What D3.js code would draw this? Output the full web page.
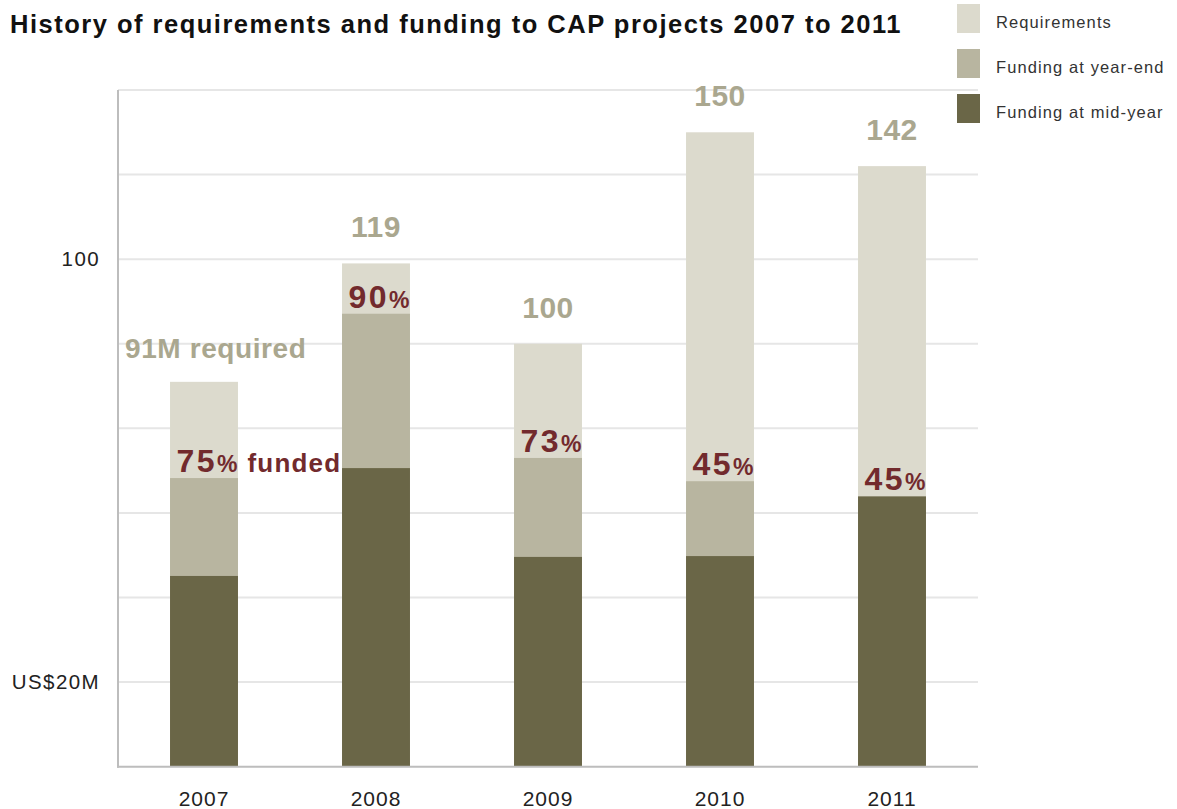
<!DOCTYPE html>
<html>
<head>
<meta charset="utf-8">
<script src="https://cdn.jsdelivr.net/npm/d3@7/dist/d3.min.js"></script>
<style>
  html, body { margin: 0; padding: 0; background: #fff; }
  svg { display: block; font-family: "Liberation Sans", Arial, sans-serif; }
</style>
</head>
<body>
<svg id="chart" width="1177" height="809"></svg>
<script>
// CAP requirements and funding, US$ millions
const years = ["2007", "2008", "2009", "2010", "2011"];
const required = [91, 119, 100, 150, 142];
const fundedPct = [75, 90, 73, 45, 45];
const yearEndFunding = [68.25, 107.1, 73, 67.5, 63.9];
const midYearFunding = [45.1, 70.6, 49.6, 49.8, 63.9];

const axisTickValues = [20, 120];
const axisTickLabels = ["US$20M", "100"];
const gridValues = [20, 40, 60, 80, 100, 120, 140, 160];

const seriesNames = ["Requirements", "Funding at year-end", "Funding at mid-year"];
const seriesColors = ["#dcdacd", "#b8b5a0", "#6a6647"];

const svg = d3.select("#chart");
const plotLeft = 118, plotRight = 978, plotTop = 90, plotBottom = 766.7;

const x = d3.scaleBand().domain(years).range([plotLeft, plotRight])
  .paddingInner(0.605).paddingOuter(0.3025);
const y = d3.scaleLinear().domain([0, 160]).range([plotBottom, plotTop]);

// title
svg.append("text")
  .attr("x", 10).attr("y", 33)
  .attr("font-size", 25.5).attr("font-weight", "bold")
  .attr("letter-spacing", 1.5)
  .attr("fill", "#111")
  .text("History of requirements and funding to CAP projects 2007 to 2011");

// gridlines
svg.append("g").selectAll("line").data(gridValues).join("line")
  .attr("x1", plotLeft).attr("x2", plotRight)
  .attr("y1", d => y(d)).attr("y2", d => y(d))
  .attr("stroke", "#e6e6e6").attr("stroke-width", 2);

// left axis labels
const yAxis = d3.axisLeft(y).tickValues(axisTickValues)
  .tickFormat((d, i) => axisTickLabels[i]).tickSize(0).tickPadding(18);
const gy = svg.append("g").attr("transform", `translate(${plotLeft},0)`).call(yAxis);
gy.select(".domain").remove();
gy.selectAll("text").attr("font-size", 20.5).attr("fill", "#222")
  .attr("letter-spacing", 1.4)
  .attr("font-family", "'Liberation Sans', Arial, sans-serif");

// bars: requirements, then year-end and mid-year funding on top
const rows = years.map((yr, i) => ({
  yr, req: required[i], pct: fundedPct[i],
  yearEnd: yearEndFunding[i], mid: midYearFunding[i]
}));

const layers = [
  { key: "req", color: seriesColors[0] },
  { key: "yearEnd", color: seriesColors[1] },
  { key: "mid", color: seriesColors[2] }
];
layers.forEach(l => {
  svg.append("g").selectAll("rect").data(rows).join("rect")
    .attr("x", d => x(d.yr))
    .attr("width", x.bandwidth())
    .attr("y", d => y(d[l.key]))
    .attr("height", d => y(0) - y(d[l.key]))
    .attr("fill", l.color);
});

// axis lines
svg.append("line").attr("x1", plotLeft).attr("x2", plotLeft).attr("y1", plotTop).attr("y2", plotBottom + 1)
  .attr("stroke", "#bdbdbd").attr("stroke-width", 2);
svg.append("line").attr("x1", plotLeft - 1).attr("x2", plotRight).attr("y1", plotBottom).attr("y2", plotBottom)
  .attr("stroke", "#bdbdbd").attr("stroke-width", 2);

// bottom axis labels
const xAxis = d3.axisBottom(x).tickSize(0).tickPadding(24);
const gx = svg.append("g").attr("transform", `translate(0,${plotBottom})`).call(xAxis);
gx.select(".domain").remove();
gx.selectAll("text").attr("font-size", 21).attr("fill", "#222")
  .attr("letter-spacing", 1)
  .attr("font-family", "'Liberation Sans', Arial, sans-serif");

// requirement labels
const reqColor = "#aaa78f";
rows.forEach((d, i) => {
  const cx = x(d.yr) + x.bandwidth() / 2;
  if (i === 0) {
    svg.append("text")
      .attr("x", 125).attr("y", y(d.req) - 24)
      .attr("font-size", 28).attr("font-weight", "bold")
      .attr("letter-spacing", 0.6)
      .attr("fill", reqColor)
      .text(d.req + "M required");
  } else {
    svg.append("text")
      .attr("x", cx).attr("y", y(d.req) - 26)
      .attr("text-anchor", "middle")
      .attr("font-size", 30).attr("font-weight", "bold")
      .attr("letter-spacing", 0.5)
      .attr("fill", reqColor)
      .text(d.req);
  }
});

// funded percentage labels
const pctColor = "#722a2d";
rows.forEach((d, i) => {
  const cx = x(d.yr) + x.bandwidth() / 2 + 3;
  const t = svg.append("text")
    .attr("y", y(d.yearEnd) - 6)
    .attr("font-weight", "bold")
    .attr("fill", pctColor);
  t.append("tspan").attr("font-size", 32).attr("letter-spacing", 2.5).text(d.pct);
  t.append("tspan").attr("font-size", 23).text("%");
  const w = t.node().getComputedTextLength();
  t.attr("x", cx - w / 2);
  if (i === 0) {
    svg.append("text")
      .attr("x", cx + w / 2 + 10).attr("y", y(d.yearEnd) - 6)
      .attr("font-size", 26).attr("font-weight", "bold")
      .attr("letter-spacing", 1.2)
      .attr("fill", pctColor)
      .text("funded");
  }
});

// legend
const legend = svg.append("g");
seriesNames.forEach((name, i) => {
  const ly = 4 + i * 45;
  legend.append("rect").attr("x", 957).attr("y", ly).attr("width", 23).attr("height", 29)
    .attr("fill", seriesColors[i]);
  legend.append("text").attr("x", 996).attr("y", ly + 24)
    .attr("font-size", 16.5).attr("letter-spacing", 1.1).attr("fill", "#333")
    .text(name);
});
</script>
</body>
</html>
